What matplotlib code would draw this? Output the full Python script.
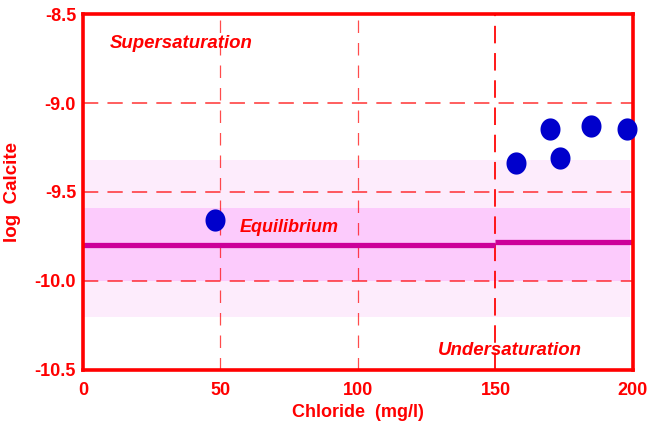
import matplotlib
matplotlib.use("Agg")
import matplotlib.pyplot as plt
import numpy as np
from matplotlib.path import Path

# Data
chloride = [48.0, 157.5, 169.9, 173.5, 184.8, 197.9]
log_calcite = [-9.657, -9.337, -9.148, -9.307, -9.129, -9.146]

x_ticks = [0, 50, 100, 150, 200]
x_tick_labels = ["0", "50", "100", "150", "200"]
y_ticks = [-10.5, -10.0, -9.5, -9.0, -8.5]
y_tick_labels = ["-10.5", "-10.0", "-9.5", "-9.0", "-8.5"]

eq_x = [0, 150, 150, 200]
eq_y = [-9.795, -9.795, -9.78, -9.78]
dark_band = (-10.0, -9.59)
light_band = (-10.20, -9.32)

RED = "#FF0000"
FS = 13
plt.rcParams['font.family'] = ['Liberation Sans', 'DejaVu Sans']

# slightly tall ellipse marker
t = np.linspace(0, 2 * np.pi, 60)
ell = Path(np.column_stack([0.9 * np.cos(t), np.sin(t)]), closed=True)

fig = plt.figure(figsize=(6.55, 4.23), dpi=100)
ax = fig.add_axes([0.1267, 0.1253, 0.8397, 0.8416])

ax.set_xlim(0, 200)
ax.set_ylim(-10.5, -8.5)

ax.axhspan(*light_band, xmin=0.0, xmax=0.995, color="#FDECFC", zorder=0, lw=0)
ax.axhspan(*dark_band, xmin=0.0, xmax=0.995, color="#FCCBFC", zorder=0.5, lw=0)

# grid lines
for xv in [50, 100]:
    ax.axvline(xv, color=RED, lw=0.9, alpha=0.7, dashes=(10, 8), zorder=1)
ax.axvline(150, color=RED, lw=1.4, alpha=0.9, dashes=(9, 5), zorder=1)
for yv in [-9.0, -9.5, -10.0]:
    ax.axhline(yv, color=RED, lw=1.1, alpha=0.8, dashes=(10, 6), zorder=1)

ax.plot(eq_x[:2], eq_y[:2], color="#CC0099", lw=3.8, solid_capstyle="butt", zorder=2)
ax.plot(eq_x[2:], eq_y[2:], color="#CC0099", lw=3.8, solid_capstyle="butt", zorder=2)

ax.plot(chloride, log_calcite, linestyle='none', marker=ell, color="#0000CC",
        markersize=16, markeredgewidth=0, zorder=5, clip_on=False)

for s in ax.spines.values():
    s.set_color(RED)
    s.set_linewidth(2.6)

ax.set_xticks(x_ticks)
ax.set_xticklabels(x_tick_labels)
ax.set_yticks(y_ticks)
ax.set_yticklabels(y_tick_labels)
ax.tick_params(length=0, colors=RED, labelsize=FS)
ax.tick_params(axis='y', pad=5)
ax.tick_params(axis='x', pad=9)
for lbl in ax.get_xticklabels() + ax.get_yticklabels():
    lbl.set_fontweight('bold')

ax.set_xlabel("Chloride  (mg/l)", color=RED, fontsize=FS, fontweight='bold', labelpad=3)
ax.set_ylabel("log  Calcite", color=RED, fontsize=FS + 0.5, fontweight='bold', labelpad=10)

ax.text(9.8, -8.663, "Supersaturation", color=RED, fontsize=FS + 0.4, fontweight='bold',
        fontstyle='italic', va='center', ha='left', zorder=6)
ax.text(57, -9.70, "Equilibrium", color=RED, fontsize=FS, fontweight='bold',
        fontstyle='italic', va='center', ha='left', zorder=6)
ax.text(129, -10.393, "Undersaturation", color=RED, fontsize=FS + 0.4, fontweight='bold',
        fontstyle='italic', va='center', ha='left', zorder=6)

fig.savefig("out.png", dpi=100)
